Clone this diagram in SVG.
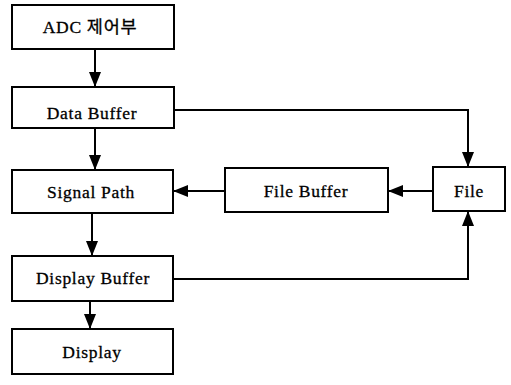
<svg xmlns="http://www.w3.org/2000/svg" width="511" height="385" viewBox="0 0 511 385">
<style>
.box{fill:#fff;stroke:#000;stroke-width:2}
.lbl{font-family:"Liberation Serif","Noto Sans CJK KR",serif;font-size:17.5px;letter-spacing:0.7px;text-anchor:middle;fill:#000;stroke:#000;stroke-width:0.3}
.conn{fill:none;stroke:#000;stroke-width:2}
</style>
<defs>
<marker id="ah" markerUnits="userSpaceOnUse" markerWidth="15" markerHeight="14" viewBox="0 0 15 14" refX="15" refY="7" orient="auto">
<path d="M0,1 L15,7 L0,13 Z" fill="#000"/>
</marker>
</defs>
<rect width="511" height="385" fill="#fff"/>
<g id="connectors">
<path class="conn" d="M95 49 V87" marker-end="url(#ah)"/>
<path class="conn" d="M95 128 V170" marker-end="url(#ah)"/>
<path class="conn" d="M92 213 V256" marker-end="url(#ah)"/>
<path class="conn" d="M90 301 V329" marker-end="url(#ah)"/>
<path class="conn" d="M174 110 H468 V167" marker-end="url(#ah)"/>
<path class="conn" d="M173 279 H468 V211" marker-end="url(#ah)"/>
<path class="conn" d="M433 191 H388" marker-end="url(#ah)"/>
<path class="conn" d="M225 191 H173" marker-end="url(#ah)"/>
</g>
<g id="adc"><rect class="box" x="12" y="5" width="162" height="44"/><text class="lbl" x="90" y="33">ADC 제어부</text></g>
<g id="data-buffer"><rect class="box" x="12" y="87" width="162" height="41"/><text class="lbl" x="92" y="119">Data Buffer</text></g>
<g id="signal-path"><rect class="box" x="12" y="170" width="161" height="43"/><text class="lbl" x="91" y="198">Signal Path</text></g>
<g id="display-buffer"><rect class="box" x="12" y="256" width="161" height="45"/><text class="lbl" x="93" y="284">Display Buffer</text></g>
<g id="display"><rect class="box" x="12" y="329" width="161" height="45"/><text class="lbl" x="92" y="358">Display</text></g>
<g id="file-buffer"><rect class="box" x="225" y="168" width="163" height="44"/><text class="lbl" x="306" y="197">File Buffer</text></g>
<g id="file"><rect class="box" x="433" y="167" width="72" height="44"/><text class="lbl" x="469" y="197">File</text></g>
</svg>
